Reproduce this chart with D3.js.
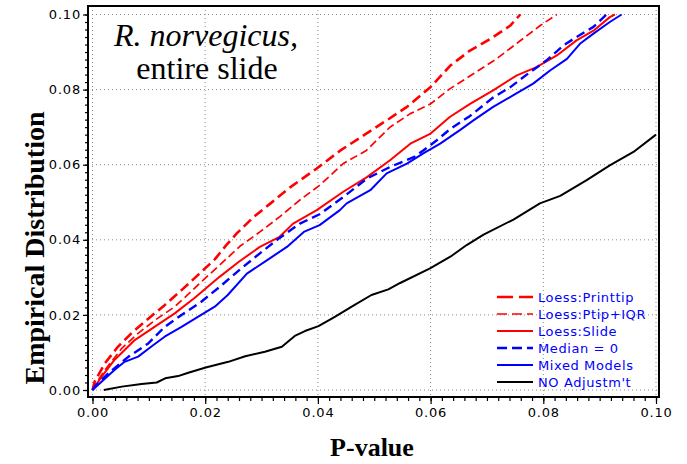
<!DOCTYPE html>
<html>
<head>
<meta charset="utf-8">
<script src="https://cdn.jsdelivr.net/npm/d3@7"></script>
<style>
  body { margin: 0; background: #fff; }
  .grid line { stroke: #8a8a8a; stroke-width: 1; stroke-dasharray: 1,3; }
  .axis text { font-family: "DejaVu Sans", sans-serif; font-size: 13px; letter-spacing: 0.8px; fill: #000; }
  .axis line { stroke: #000; stroke-width: 1.2; }
  .series { fill: none; stroke-linejoin: round; }
  .legend text { font-family: "DejaVu Sans", sans-serif; font-size: 13px; letter-spacing: 0.6px; fill: #0000ff; }
</style>
</head>
<body>
<script>
// [p-value, empirical distribution]
var printtip = [[0,0],[0.0004,0.0023],[0.0022,0.0071],[0.0045,0.0115],[0.0069,0.0151],[0.0099,0.019],
  [0.0128,0.0226],[0.0158,0.0266],[0.0187,0.0306],[0.0217,0.0348],[0.0237,0.0385],[0.0256,0.0417],
  [0.0286,0.0461],[0.0316,0.0497],[0.035,0.0539],[0.0398,0.059],[0.044,0.0638],[0.0481,0.0678],
  [0.0522,0.0718],[0.0558,0.0754],[0.06,0.0807],[0.0635,0.0864],[0.067,0.0904],[0.0706,0.0935],
  [0.0741,0.097],[0.0759,0.1]];

var ptipIqr = [[0,0],[0.0004,0.0013],[0.0022,0.0053],[0.0052,0.0111],[0.0081,0.0151],[0.0111,0.0186],
  [0.0146,0.0222],[0.017,0.0255],[0.019,0.0284],[0.0226,0.0333],[0.0261,0.0382],[0.0297,0.0421],
  [0.0332,0.0461],[0.0368,0.0506],[0.0403,0.0545],[0.0445,0.0603],[0.0486,0.0638],[0.0528,0.07],
  [0.0564,0.0736],[0.06,0.0762],[0.0634,0.0802],[0.0676,0.0842],[0.0717,0.0882],[0.0759,0.093],
  [0.0794,0.097],[0.0824,0.1]];

var slide = [[0,0],[0.0016,0.0035],[0.0039,0.008],[0.0075,0.0133],[0.011,0.0168],[0.0146,0.0204],
  [0.0181,0.0245],[0.0226,0.0302],[0.0261,0.0343],[0.0297,0.0381],[0.0332,0.0408],[0.0356,0.0443],
  [0.0398,0.0479],[0.0445,0.0528],[0.0487,0.0567],[0.0528,0.0612],[0.0564,0.0656],[0.06,0.0683],
  [0.0634,0.0727],[0.067,0.0762],[0.0711,0.0798],[0.0753,0.0838],[0.0788,0.086],[0.0824,0.0891],
  [0.0859,0.0931],[0.0889,0.0957],[0.0918,0.0993],[0.0927,0.1]];

var medianZero = [[0,0],[0.0004,0.0009],[0.0028,0.0044],[0.0064,0.0089],[0.0099,0.0124],[0.0128,0.0168],
  [0.0158,0.02],[0.0193,0.0235],[0.0226,0.0275],[0.0261,0.032],[0.0297,0.0364],[0.0332,0.0405],
  [0.0368,0.0443],[0.0403,0.0468],[0.0445,0.0514],[0.0487,0.0563],[0.0528,0.0594],[0.057,0.062],
  [0.0587,0.0638],[0.0611,0.0665],[0.0634,0.0694],[0.067,0.073],[0.0711,0.0779],[0.0741,0.0806],
  [0.0776,0.0846],[0.0806,0.0878],[0.0836,0.0918],[0.0859,0.094],[0.0889,0.0967],[0.0912,0.1]];

var mixedModels = [[0,0],[0.0016,0.0022],[0.0039,0.0053],[0.0057,0.0075],[0.0081,0.0089],[0.0104,0.0115],
  [0.0128,0.0142],[0.0158,0.0168],[0.0187,0.0195],[0.0217,0.0222],[0.024,0.0253],[0.0274,0.031],
  [0.031,0.0346],[0.0345,0.0381],[0.0375,0.0421],[0.0403,0.0439],[0.0439,0.0479],[0.0451,0.0497],
  [0.0493,0.0532],[0.0522,0.0577],[0.0558,0.0603],[0.0587,0.063],[0.0617,0.0656],[0.0652,0.0692],
  [0.0676,0.0718],[0.0711,0.0754],[0.0747,0.0785],[0.0782,0.0816],[0.0812,0.0851],[0.0842,0.0882],
  [0.0865,0.0922],[0.0889,0.0949],[0.0918,0.098],[0.0939,0.1]];

var noAdjust = [[0.002,0],[0.0052,0.0009],[0.0087,0.0016],[0.0114,0.002],[0.0129,0.0031],[0.0152,0.0037],
  [0.017,0.0046],[0.0201,0.006],[0.0241,0.0075],[0.0271,0.009],[0.0306,0.0102],[0.0336,0.0115],
  [0.0359,0.0144],[0.0377,0.0157],[0.0401,0.017],[0.043,0.0195],[0.046,0.0222],[0.0495,0.0253],
  [0.0525,0.0268],[0.0546,0.0285],[0.0599,0.0324],[0.0635,0.0355],[0.0664,0.0386],[0.0694,0.0414],
  [0.0747,0.0454],[0.0794,0.0497],[0.083,0.0517],[0.0877,0.0559],[0.0918,0.0598],[0.096,0.0634],
  [0.1,0.068]];

var seriesNames = ["Loess:Printtip", "Loess:Ptip+IQR", "Loess:Slide", "Median = 0", "Mixed Models", "NO Adjustm't"];
var majorTicks = [0, 0.02, 0.04, 0.06, 0.08, 0.10];

var series = [
  {name: seriesNames[0], values: printtip,    color: "#ff0000", width: 2.6, dash: "10,5", legendDash: "16,6"},
  {name: seriesNames[1], values: ptipIqr,     color: "#ff0000", width: 1.7, dash: "8,4",  legendDash: "10,5"},
  {name: seriesNames[2], values: slide,       color: "#ff0000", width: 2,   dash: null,   legendDash: null},
  {name: seriesNames[3], values: medianZero,  color: "#0000ff", width: 2.4, dash: "9,5",  legendDash: "10,5"},
  {name: seriesNames[4], values: mixedModels, color: "#0000ff", width: 2,   dash: null,   legendDash: null},
  {name: seriesNames[5], values: noAdjust,    color: "#000000", width: 2,   dash: null,   legendDash: null}
];

var width = 687, height = 464;
var frame = {left: 88, top: 6, right: 659, bottom: 397};

var x = d3.scaleLinear().domain([0, 0.1]).range([92.5, 656]);
var y = d3.scaleLinear().domain([0, 0.1]).range([390, 14.5]);

var svg = d3.select("body").append("svg")
    .attr("width", width)
    .attr("height", height);

// dotted grid
var grid = svg.append("g").attr("class", "grid");
grid.selectAll(".gx").data(majorTicks).enter().append("line")
    .attr("x1", function(d) { return x(d); }).attr("x2", function(d) { return x(d); })
    .attr("y1", frame.top).attr("y2", frame.bottom);
grid.selectAll(".gy").data(majorTicks).enter().append("line")
    .attr("x1", frame.left).attr("x2", frame.right)
    .attr("y1", function(d) { return y(d); }).attr("y2", function(d) { return y(d); });

// axes
var minorTicks = d3.range(0, 0.1001, 0.002);

svg.append("g")
    .attr("class", "axis")
    .attr("transform", "translate(0," + frame.bottom + ")")
    .call(d3.axisBottom(x).tickValues(minorTicks).tickSize(4).tickFormat(""))
    .call(function(g) { g.select(".domain").remove(); });
svg.append("g")
    .attr("class", "axis")
    .attr("transform", "translate(0," + frame.bottom + ")")
    .call(d3.axisBottom(x).tickValues(majorTicks).tickSize(7).tickPadding(4).tickFormat(d3.format(".2f")))
    .call(function(g) { g.select(".domain").remove(); });

svg.append("g")
    .attr("class", "axis")
    .attr("transform", "translate(" + frame.left + ",0)")
    .call(d3.axisLeft(y).tickValues(minorTicks).tickSize(3).tickFormat(""))
    .call(function(g) { g.select(".domain").remove(); });
svg.append("g")
    .attr("class", "axis")
    .attr("transform", "translate(" + frame.left + ",0)")
    .call(d3.axisLeft(y).tickValues(majorTicks).tickSize(5).tickPadding(2).tickFormat(d3.format(".2f")))
    .call(function(g) { g.select(".domain").remove(); });

// lines
var line = d3.line()
    .x(function(d) { return x(d[0]); })
    .y(function(d) { return y(d[1]); });

svg.append("g").selectAll("path")
    .data(series)
  .enter().append("path")
    .attr("class", "series")
    .attr("d", function(d) { return line(d.values); })
    .attr("stroke", function(d) { return d.color; })
    .attr("stroke-width", function(d) { return d.width; })
    .attr("stroke-dasharray", function(d) { return d.dash; });

// frame
svg.append("rect")
    .attr("x", frame.left).attr("y", frame.top)
    .attr("width", frame.right - frame.left).attr("height", frame.bottom - frame.top)
    .attr("fill", "none").attr("stroke", "#000").attr("stroke-width", 2);

// legend
var legend = svg.append("g").attr("class", "legend")
  .selectAll("g")
    .data(series)
  .enter().append("g")
    .attr("transform", function(d, i) { return "translate(497," + (297 + i * 17) + ")"; });

legend.append("line")
    .attr("x1", 0).attr("x2", 36)
    .attr("stroke", function(d) { return d.color; })
    .attr("stroke-width", function(d) { return d.width; })
    .attr("stroke-dasharray", function(d) { return d.legendDash; });

legend.append("text")
    .attr("x", 41)
    .attr("dy", "0.35em")
    .text(function(d) { return d.name; });

// title inside the plot
svg.append("text")
    .attr("x", 206).attr("y", 46)
    .attr("text-anchor", "middle")
    .style("font-family", "'Liberation Serif', serif")
    .style("font-size", "32px")
    .style("font-style", "italic")
    .text("R. norvegicus,");
svg.append("text")
    .attr("x", 207).attr("y", 79)
    .attr("text-anchor", "middle")
    .style("font-family", "'Liberation Serif', serif")
    .style("font-size", "32px")
    .text("entire slide");

// axis titles
svg.append("text")
    .attr("x", 372).attr("y", 456)
    .attr("text-anchor", "middle")
    .style("font-family", "'Liberation Serif', serif")
    .style("font-size", "26px")
    .style("font-weight", "bold")
    .text("P-value");

svg.append("text")
    .attr("transform", "translate(44,248) rotate(-90)")
    .attr("text-anchor", "middle")
    .style("font-family", "'Liberation Serif', serif")
    .style("font-size", "28px")
    .style("font-weight", "bold")
    .text("Empirical Distribution");
</script>
</body>
</html>
